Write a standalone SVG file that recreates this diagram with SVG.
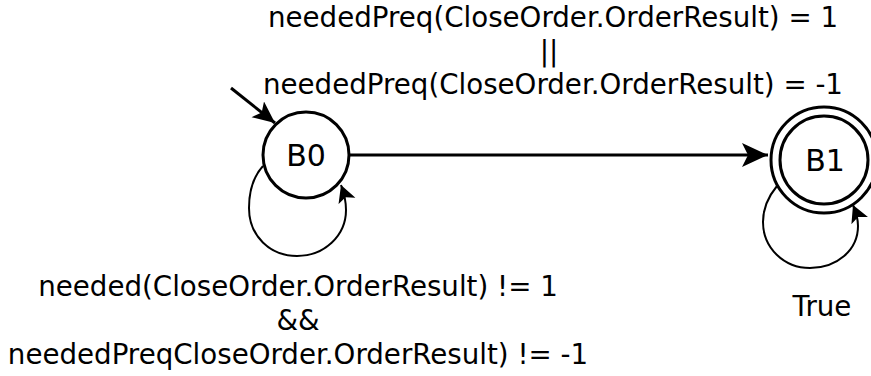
<svg xmlns="http://www.w3.org/2000/svg" width="871" height="376" viewBox="0 0 871 376">
<style>
text{font-family:"DejaVu Sans",sans-serif;font-size:27.7px;fill:#000;text-anchor:middle}
.nl{font-size:30px}
.st{fill:#fff;stroke:#000;stroke-width:3}
.e{fill:none;stroke:#000;stroke-width:3}
.lp{fill:none;stroke:#000;stroke-width:2}
</style>
<defs>
<marker id="big" markerUnits="userSpaceOnUse" markerWidth="28" markerHeight="26" refX="26" refY="12" orient="auto"><path d="M0,0 L26,12 L0,24 L6,12 z" fill="#000"/></marker>
<marker id="init" markerUnits="userSpaceOnUse" markerWidth="24" markerHeight="22" refX="22" refY="10" orient="auto"><path d="M0,0 L22,10 L0,20 L5,10 z" fill="#000"/></marker>
<marker id="sm" markerUnits="userSpaceOnUse" markerWidth="18" markerHeight="20" refX="17" refY="9" orient="auto"><path d="M0,0 L17,9 L0,18 L4,9 z" fill="#000"/></marker>
</defs>
<g id="connectors">
<line class="e" x1="231" y1="88" x2="275" y2="123" marker-end="url(#init)"/>
<line class="e" x1="349" y1="155" x2="768" y2="155" marker-end="url(#big)"/>
<path class="lp" d="M263,166 C252,178 249,192 249,208 C249,236 270,256 297,256 C324,256 346,236 346,210 C346,200 344,193 341,185" marker-end="url(#sm)"/>
<path class="lp" d="M777,186 C767,198 763,210 763,222 C763,248 784,268 810,268 C837,268 858,250 858,226 C858,218 856,212 853,205" marker-end="url(#sm)"/>
<text x="553" y="27">neededPreq(CloseOrder.OrderResult) = 1</text>
<text x="549" y="60.5">||</text>
<text x="553" y="94">neededPreq(CloseOrder.OrderResult) = -1</text>
<text x="298" y="296">needed(CloseOrder.OrderResult) != 1</text>
<text x="298" y="330">&amp;&amp;</text>
<text x="298" y="364">neededPreqCloseOrder.OrderResult) != -1</text>
<text x="822" y="315.5">True</text>
</g>
<g id="B0">
<circle class="st" cx="306" cy="155" r="43"/>
<text class="nl" x="306" y="166">B0</text>
</g>
<g id="B1">
<circle class="st" cx="824" cy="160" r="53"/>
<circle class="st" cx="824" cy="160" r="44"/>
<text class="nl" x="825" y="171">B1</text>
</g>
</svg>
